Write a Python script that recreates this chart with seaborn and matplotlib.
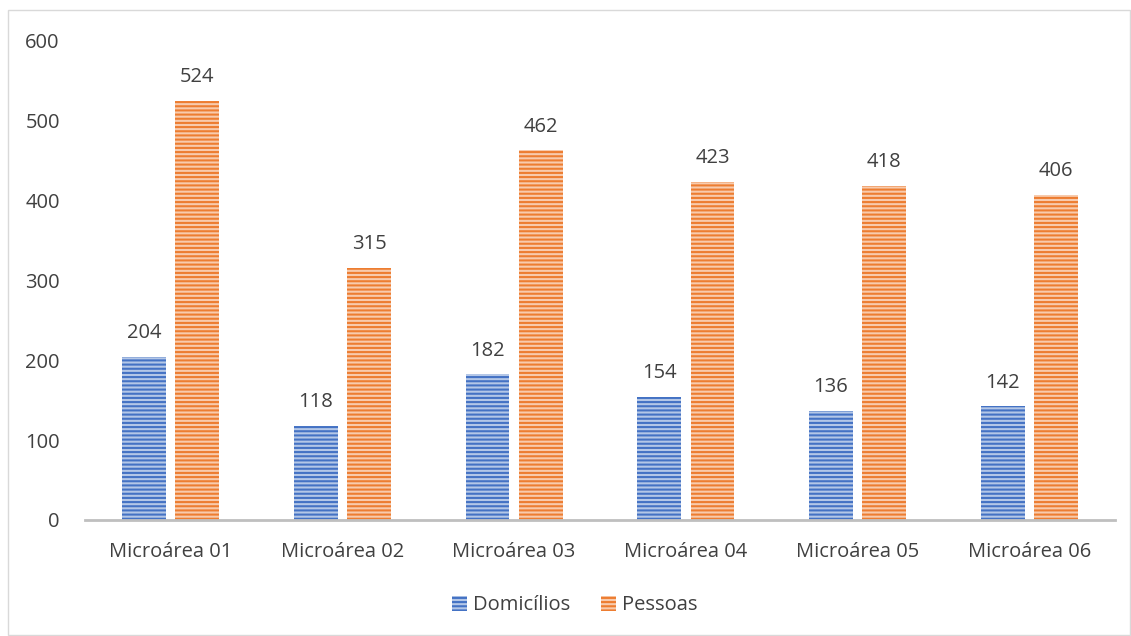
import matplotlib
matplotlib.use("Agg")
import matplotlib.pyplot as plt
import matplotlib.patches as mpatches
import seaborn as sns
import pandas as pd

categories = ["Microárea 01", "Microárea 02", "Microárea 03",
              "Microárea 04", "Microárea 05", "Microárea 06"]
domicilios = [204, 118, 182, 154, 136, 142]
pessoas = [524, 315, 462, 423, 418, 406]
series_names = ["Domicílios", "Pessoas"]

df = pd.DataFrame({
    "Microárea": categories * 2,
    "Série": [series_names[0]] * len(categories) + [series_names[1]] * len(categories),
    "Valor": domicilios + pessoas,
})

sns.set_theme(style="white")
plt.rcParams["font.family"] = ["Open Sans", "DejaVu Sans"]
plt.rcParams["hatch.linewidth"] = 1.5

text_color = "#404040"
fs = 14.5
strong = {"Domicílios": "#4472C4", "Pessoas": "#ED7D31"}
light = {"Domicílios": "#B4C7E7", "Pessoas": "#F8CBAD"}

fig = plt.figure(figsize=(11.31, 6.36), dpi=100)
ax = fig.add_axes([0.075, 0.1824, 0.911, 0.7546])

sns.barplot(data=df, x="Microárea", y="Valor", hue="Série",
            hue_order=series_names, palette=strong,
            width=0.62, gap=0.18, ax=ax, legend=False)

for container, name in zip(ax.containers, series_names):
    for bar in container:
        bar.set_facecolor(light[name])
        bar.set_edgecolor(strong[name])
        bar.set_hatch("----")
        bar.set_linewidth(0)
    ax.bar_label(container, padding=10, fontsize=fs, color=text_color)

ax.set_ylim(0, 600)
ax.set_xlim(-0.5, len(categories) - 0.5)
ax.set_yticks(range(0, 601, 100))
ax.set_xlabel("")
ax.set_ylabel("")
ax.tick_params(axis="x", length=0, pad=16, labelsize=fs, labelcolor=text_color)
ax.tick_params(axis="y", length=0, pad=18, labelsize=fs, labelcolor=text_color)
for lbl in ax.get_yticklabels():
    lbl.set_horizontalalignment("right")
for side in ["top", "right", "left"]:
    ax.spines[side].set_visible(False)
ax.spines["bottom"].set_color("#BFBFBF")
ax.spines["bottom"].set_linewidth(2)

handles = [mpatches.Patch(facecolor=light[n], edgecolor=strong[n], hatch="----",
                          linewidth=0, label=n) for n in series_names]
fig.legend(handles=handles, loc="center", bbox_to_anchor=(0.508, 0.048),
           ncol=2, frameon=False, fontsize=fs, labelcolor=text_color,
           handlelength=0.75, handleheight=0.75, handletextpad=0.3, columnspacing=1.5)

# thin light border around the chart area
fig.patches.append(mpatches.Rectangle((0.007, 0.002), 0.992, 0.982,
                                      transform=fig.transFigure, fill=False,
                                      edgecolor="#D9D9D9", linewidth=1))

fig.savefig("out.png", dpi=100)
